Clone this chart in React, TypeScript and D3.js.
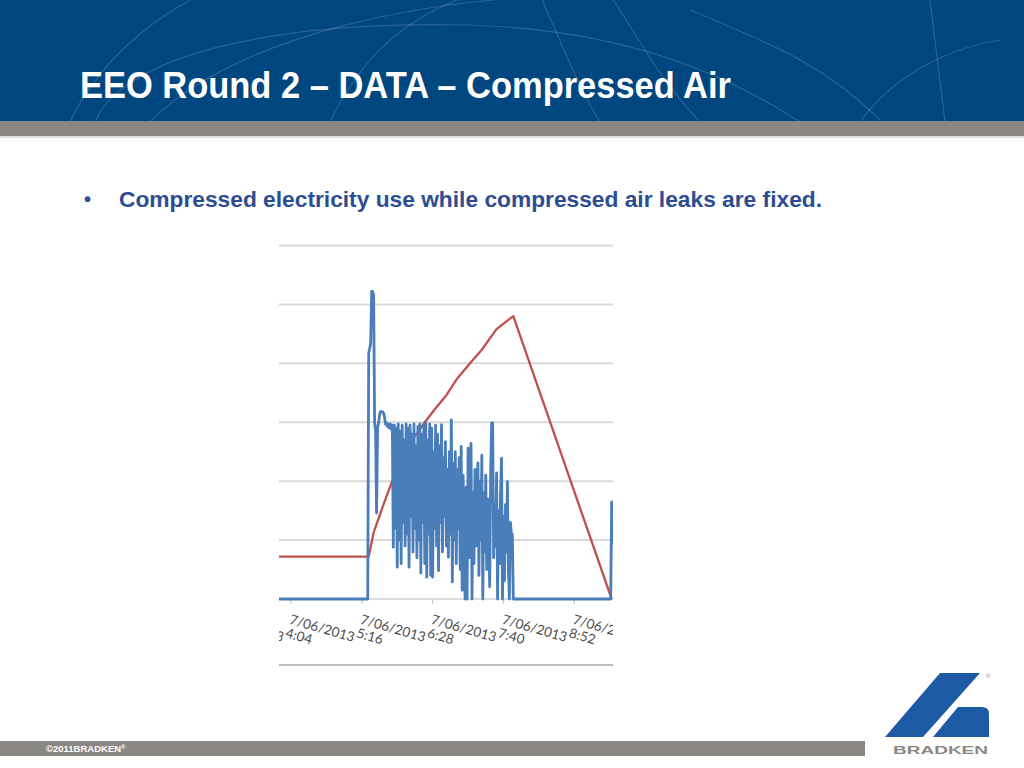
import * as d3 from "d3";

// time helper: "H:MM" on 7 June 2013
const at = (hm: string) => {
  const [h, m] = hm.split(":").map(Number);
  return new Date(2013, 5, 7, h, m);
};

// x axis ticks (72 minute steps), first one sits left of the visible crop
const tickTimes = ["2:52", "4:04", "5:16", "6:28", "7:40", "8:52"];
const gridValues = [1, 2, 3, 4, 5, 6];

// red series
const redTimes = ["3:40", "5:23", "5:28", "5:38", "5:48", "5:58", "6:08", "6:20", "6:32", "6:42", "6:52", "7:06", "7:18", "7:26", "7:33", "7:42", "7:50", "9:30"];
const redValues = [0.72, 0.72, 1.13, 1.6, 2.05, 2.42, 2.72, 3.0, 3.26, 3.46, 3.72, 4.0, 4.23, 4.42, 4.58, 4.7, 4.8, 0];

// blue series: one reading per minute from 5:20
const blueStart = "5:20";
const blueValues = [
  0, 0, 0, 4.18, 4.25, 4.35, 5.22, 5.22, 5.15, 2.99,
  2.85, 1.46, 2.9, 2.99, 3.12, 3.18, 3.18, 3.18, 3.16, 3.1,
  2.97, 2.99, 2.93, 2.97, 2.9, 2.97, 2.88, 2.95,
  // 5:48
  0.88, 2.95, 1.2, 2.9, 0.54, 2.97, 1.0, 2.85, 0.6, 2.95,
  1.3, 2.7, 0.9, 2.97, 1.1, 2.9, 0.54, 2.95, 1.4, 2.8,
  0.8, 2.97, 1.2, 2.6, 0.7, 2.93, 1.0, 2.97, 0.44, 2.8,
  1.3, 2.95, 0.6, 2.99, 0.37, 2.7, 1.1, 2.97, 0.4, 2.9,
  0.37, 2.5, 1.2, 2.95, 0.9, 2.8, 0.48, 2.6, 1.3, 2.96,
  0.8, 2.4, 1.4, 2.67, 0.9, 2.2, 0.71, 2.5, 1.1, 3.04,
  0.29, 2.3, 1.0, 2.5, 0.6, 2.2, 1.2, 2.4, 0.5, 2.59,
  0.15, 2.1, 0.8, 0, 1.9, 0, 2.56, 0.7, 2.3, 2.64,
  0, 1.8, 0.6, 2.2, 0.9, 1.9, 2.31, 0.4, 2.0, 1.0,
  2.44, 0, 1.8, 0.8, 2.1, 0.5, 1.7, 1.0, 0.21, 2.2,
  2.99, 2.99, 0.7, 1.6, 0.9, 2.14, 0, 1.5, 0.6, 1.8,
  2.39, 0, 1.4, 0.31, 1.6, 0.8, 1.99, 0.5, 0, 1.3,
  1.12, 1.1, 0, 0,
];
const blueLead: [string, number][] = [["3:40", 0]];
const blueTail: [string, number][] = [["9:29", 0], ["9:30", 1.65], ["9:31", 0.95], ["9:33", 0.95]];

type Pt = { t: Date; v: number };

const redData: Pt[] = redTimes.map((t, i) => ({ t: at(t), v: redValues[i] }));
const blueData: Pt[] = [
  ...blueLead.map(([t, v]) => ({ t: at(t), v })),
  ...blueValues.map((v, i) => ({ t: d3.timeMinute.offset(at(blueStart), i), v })),
  ...blueTail.map(([t, v]) => ({ t: at(t), v })),
];

const L = 279, R = 613;

export default function App() {
  const x = d3.scaleTime().domain([at("4:04"), at("8:52")]).range([291, 574.3]);
  const y = d3.scaleLinear().domain([0, 6]).range([599, 245.5]);

  const line = d3.line<Pt>().x((d) => x(d.t)).y((d) => y(d.v));

  const arcs = [
    "M70,122 C95,70 140,25 200,-5",
    "M95,122 C120,60 260,20 470,25 C620,30 720,70 800,122",
    "M150,122 C230,40 420,-10 640,-5",
    "M330,122 C360,60 400,20 470,-5",
    "M540,-5 C560,40 580,90 600,122",
    "M610,-5 C640,40 660,80 700,122",
    "M860,122 C890,80 940,50 1000,40",
    "M930,0 C935,40 940,80 945,122",
    "M690,10 C760,40 820,60 880,120",
  ];

  return (
    <div style={{ position: "absolute", left: 0, top: 0 }}>
      <svg width={1024} height={768} style={{ display: "block", background: "#fff" }}>
        <defs>
          <clipPath id="plotClip">
            <rect x={L} y={230} width={R - L} height={460} />
          </clipPath>
          <clipPath id="headClip">
            <rect x={0} y={0} width={1024} height={121} />
          </clipPath>
        </defs>

        {/* header */}
        <rect x={0} y={0} width={1024} height={121} fill="#00467f" />
        <g clipPath="url(#headClip)" fill="none" stroke="#ffffff" strokeOpacity={0.16} strokeWidth={1.2}>
          {arcs.map((d, i) => <path key={i} d={d} />)}
        </g>
        <rect x={0} y={121} width={1024} height={15} fill="#8b8782" />
        <rect x={0} y={136} width={1024} height={2} fill="#e2e0dc" />
        <text x={80} y={98} fill="#ffffff" fontFamily="'Liberation Sans', Arial, sans-serif" fontWeight="bold" fontSize={37} textLength={651} lengthAdjust="spacingAndGlyphs">
          EEO Round 2 – DATA – Compressed Air
        </text>

        {/* bullet */}
        <text x={84} y={206} fill="#2c4d91" fontFamily="'Liberation Sans', Arial, sans-serif" fontWeight="bold" fontSize={20}>•</text>
        <text x={119} y={207} fill="#2c4d91" fontFamily="'Liberation Sans', Arial, sans-serif" fontWeight="bold" fontSize={22} textLength={703} lengthAdjust="spacingAndGlyphs">
          Compressed electricity use while compressed air leaks are fixed.
        </text>

        {/* chart */}
        <g clipPath="url(#plotClip)">
          {gridValues.map((v) => (
            <line key={v} x1={L} x2={R} y1={y(v)} y2={y(v)} stroke="#d9d9d9" strokeWidth={2} />
          ))}
          <line x1={L} x2={R} y1={y(0)} y2={y(0)} stroke="#d0d0d0" strokeWidth={1.5} />
          {tickTimes.map((t) => {
            const tx = x(at(t));
            return (
              <g key={t}>
                <line x1={tx} x2={tx} y1={y(0)} y2={y(0) + 5} stroke="#c8c8c8" strokeWidth={1.2} />
                <g transform={`translate(${tx + 1},${612}) rotate(16)`} fill="#4d4d4d" fontFamily="Lato, 'Open Sans', sans-serif" fontSize={13.5}>
                  <text x={0} y={12}>7/06/2013</text>
                  <text x={0} y={26}>{t}</text>
                </g>
              </g>
            );
          })}
          <path d={line(redData) ?? undefined} fill="none" stroke="#c0504d" strokeWidth={2.3} strokeLinejoin="round" />
          <path d={line(blueData) ?? undefined} fill="none" stroke="#4a7ebb" strokeWidth={2.8} strokeLinejoin="round" />
        </g>
        <line x1={L} x2={R} y1={665} y2={665} stroke="#a6a6a6" strokeWidth={1.5} />

        {/* footer */}
        <rect x={0} y={741} width={865} height={15} fill="#8b8782" />
        <text x={46} y={752} fill="#ffffff" fontFamily="'Liberation Sans', Arial, sans-serif" fontWeight="bold" fontSize={9.5}>
          ©2011BRADKEN<tspan fontSize={6} dy={-3}>®</tspan>
        </text>

        {/* logo */}
        <path d="M885,737 L940,673 L980,673 L923,737 Z" fill="#1d5aa5" />
        <path d="M933,737 L958,707 L982,707 Q989,707 989,714 L989,737 Z" fill="#1d5aa5" />
        <text x={986} y={678} fill="#8b8782" fontFamily="'Liberation Sans', Arial, sans-serif" fontSize={6}>®</text>
        <text x={893} y={754} fill="#8b8782" fontFamily="'Liberation Sans', Arial, sans-serif" fontWeight="bold" fontSize={11.5} textLength={95} lengthAdjust="spacingAndGlyphs">
          BRADKEN
        </text>
      </svg>
    </div>
  );
}
